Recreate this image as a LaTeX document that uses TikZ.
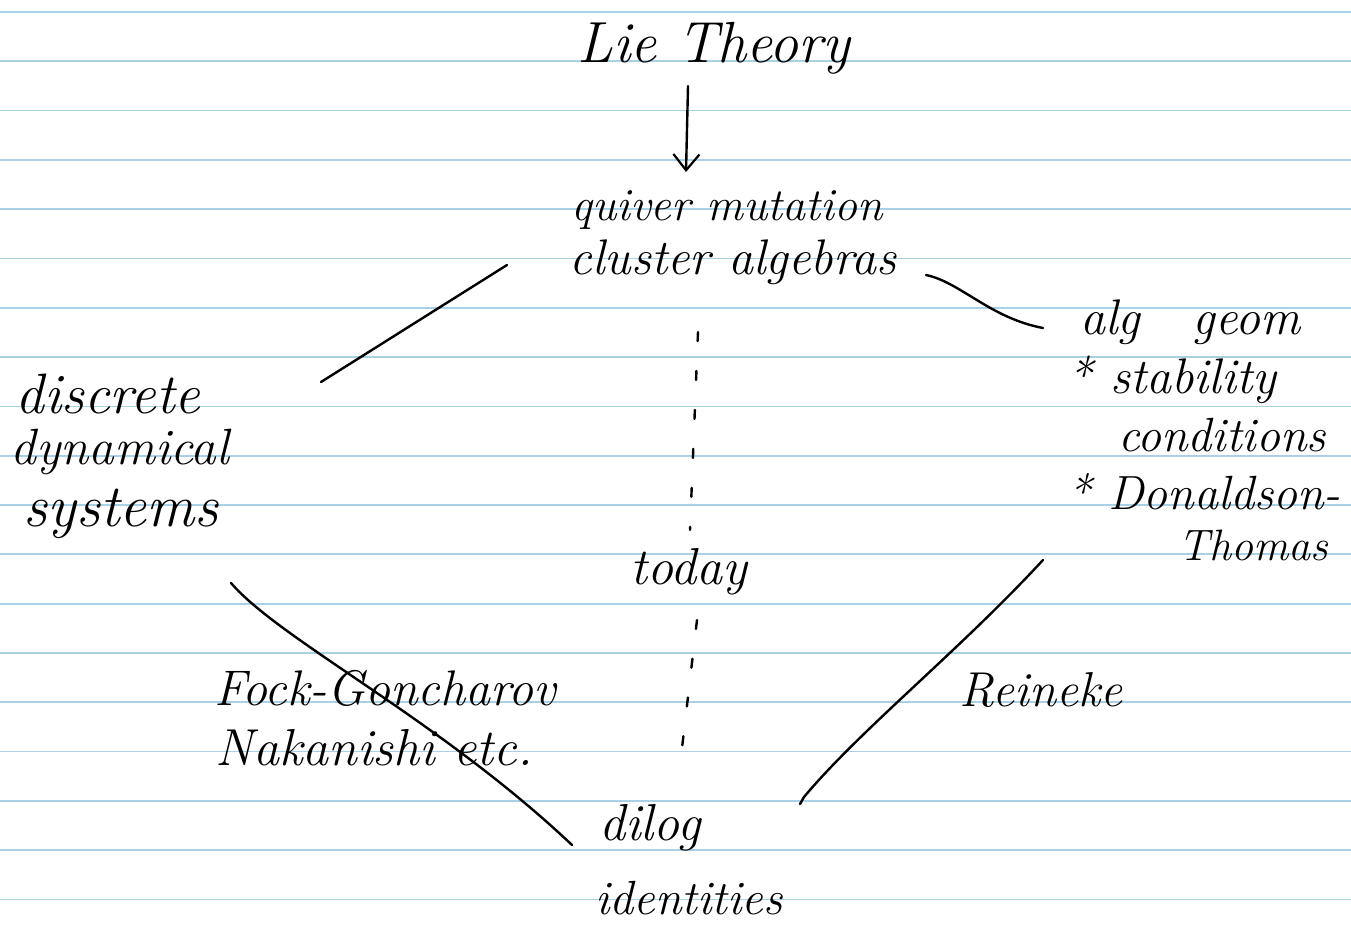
\documentclass[tikz,border=0pt]{standalone}
\usetikzlibrary{arrows.meta}
\definecolor{ruleblue}{RGB}{170,208,228}
\begin{document}
\begin{tikzpicture}[x=1pt,y=-1pt,
  hand/.style={font=\fontsize{46}{50}\selectfont\itshape, inner sep=0pt, anchor=center},
  fs/.style={font=\fontsize{#1}{#1}\selectfont\itshape},
  ink/.style={line width=2.4pt, black, line cap=round, line join=round},
  ruled/.style={ruleblue, line width=1.8pt},
  dotted link/.style={ink, dash pattern=on 9pt off 30pt}
]
\useasboundingbox (0,0) rectangle (1351,936);
\fill[white] (0,0) rectangle (1351,936);
\foreach \k in {0,...,18} \draw[ruled] (0,{12+49.3*\k}) -- (1351,{12+49.3*\k});

% nodes
\node[hand, fs=58] (lie) at (714,48) {Lie Theory};
\node[hand] (quiver) at (727,210) {quiver mutation};
\node[hand, fs=50] (cluster) at (733,262) {cluster algebras};
\node[hand, fs=57] (disc) at (108,394) {discrete};
\node[hand, fs=51] (dyn) at (120,452) {dynamical};
\node[hand, fs=60] (sys) at (121,514) {systems};
\node[hand, fs=50] (alg) at (1190,322) {alg\ \ \ geom};
\node[hand, fs=50] (stab) at (1172,380) {* stability};
\node[hand, fs=48] (cond) at (1222,435) {conditions};
\node[hand, fs=48] (don) at (1204,492) {* Donaldson-};
\node[hand, fs=44] (thom) at (1253,545) {Thomas};
\node[hand, fs=52] (today) at (689,572) {today};
\node[hand, fs=50] (fock) at (385,688) {Fock-Goncharov};
\node[hand, fs=52] (naka) at (374,748) {Nakanishi etc.};
\node[hand, fs=49] (rein) at (1041,690) {Reineke};
\node[hand, fs=52] (dilog) at (650,828) {dilog};
\node[hand, fs=48] (ident) at (689,898) {identities};

% connector end points
\coordinate (a1) at (688,86);
\coordinate (a2) at (686,172);
\coordinate (l1) at (507,265);
\coordinate (l2) at (321,382);
\coordinate (r1) at (926,275);
\coordinate (r2) at (1043,328);
\coordinate (d1) at (698,332);
\coordinate (d2) at (690,530);
\coordinate (d3) at (697,620);
\coordinate (d4) at (680,765);
\coordinate (f1) at (231,583);
\coordinate (f2) at (572,845);
\coordinate (g1) at (1043,560);
\coordinate (g2) at (804,797);
\coordinate (g3) at (800,804);

% connectors
\draw[ink, -{Straight Barb[length=16pt,width=26pt,line width=2.2pt]}] (a1) -- (a2);
\draw[ink] (l1) -- (l2);
\draw[ink] (r1) .. controls (960,282) and (990,318) .. (r2);
\draw[dotted link] (d1) -- (d2);
\draw[dotted link] (d3) -- (d4);
\draw[ink] (f1) .. controls (280,640) and (440,720) .. (f2);
\draw[ink] (g1) .. controls (960,650) and (860,730) .. (g2) -- (g3);
\end{tikzpicture}
\end{document}
